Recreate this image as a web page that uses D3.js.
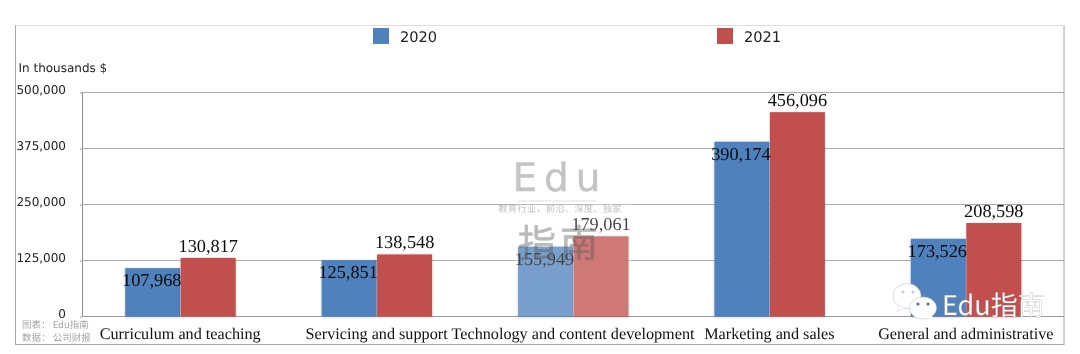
<!DOCTYPE html>
<html><head><meta charset="utf-8">
<script src="https://cdn.jsdelivr.net/npm/d3@7"></script>
<style>html,body{margin:0;padding:0;background:#fff}svg{display:block;text-rendering:geometricPrecision}</style></head>
<body><div id="c"></div>
<script>
const categories=["Curriculum and teaching","Servicing and support","Technology and content development","Marketing and sales","General and administrative"];
const years=["2020","2021"];
const values2020=[107968,125851,155949,390174,173526];
const values2021=[130817,138548,179061,456096,208598];
const yTicks=[0,125000,250000,375000,500000];
const colors=["#4f81bd","#c0504d"];
const W=1080,H=354;
const m={l:82,r:1064,t:92.5,b:316.5};
const svg=d3.select("#c").append("svg").attr("width",W).attr("height",H).style("filter","blur(0.35px)");
const defs=svg.append("defs");
const f=defs.append("filter").attr("id","sh").attr("x","-10%").attr("y","-10%").attr("width","120%").attr("height","120%");
f.append("feDropShadow").attr("dx",0).attr("dy",0.5).attr("stdDeviation",1).attr("flood-color","#000").attr("flood-opacity",.25);
const y=d3.scaleLinear().domain([0,500000]).range([m.b,m.t]);
const x0=d3.scaleBand().domain(categories).range([m.l,m.r]);
const barW=55;
const x1=d3.scaleBand().domain(years).range([-barW-0.5,barW+0.5]);
const serif="'Liberation Serif',serif", sans="'DejaVu Sans',sans-serif";
// frame
svg.append("rect").attr("x",15.5).attr("y",25.5).attr("width",1048.5).attr("height",319)
  .attr("fill","#fff").attr("stroke","#a6a6a6").attr("stroke-width",1);
svg.append("line").attr("x1",15.5).attr("x2",1064).attr("y1",25.5).attr("y2",25.5).attr("stroke","#dedede");
// y axis
const ya=svg.append("g").attr("transform",`translate(${m.l},0)`)
  .call(d3.axisLeft(y).tickValues(yTicks).tickSize(2).tickPadding(16).tickFormat(d3.format(",")));
ya.select(".domain").attr("stroke","#8c8c8c").attr("d",`M0.5,${m.t}V${m.b}`);
ya.selectAll(".tick line").attr("stroke","#9a9a9a");
ya.selectAll(".tick text").attr("font-family",sans).attr("font-size",12).attr("fill","#222").attr("x",-16).attr("dy","0.1em");
// grid
svg.append("g").selectAll("line").data(yTicks).join("line")
  .attr("x1",m.l).attr("x2",m.r).attr("y1",d=>y(d)).attr("y2",d=>y(d))
  .attr("stroke",d=>d===0?"#9a9a9a":"#ababab").attr("stroke-width",1);
// x axis
const xa=svg.append("g").attr("transform",`translate(0,${m.b})`)
  .call(d3.axisBottom(x0).tickSize(0).tickPadding(11));
xa.select(".domain").remove();
xa.selectAll(".tick text").attr("font-family",serif).attr("font-size",16.2).attr("fill","#111");
// bars
const rows=categories.map((c,i)=>({c,v:[values2020[i],values2021[i]]}));
const g=svg.append("g").selectAll("g").data(rows).join("g")
  .attr("transform",d=>`translate(${x0(d.c)+x0.bandwidth()/2},0)`);
g.selectAll("rect").data(d=>d.v.map((v,i)=>({v,i}))).join("rect")
  .attr("x",d=>x1(years[d.i])+.5).attr("width",barW)
  .attr("y",d=>y(d.v)).attr("height",d=>y(0)-y(d.v))
  .attr("fill",d=>colors[d.i]).attr("filter","url(#sh)");
// labels
g.selectAll("text").data(d=>d.v.map((v,i)=>({v,i}))).join("text")
  .attr("text-anchor","middle")
  .attr("x",d=>d.i===0?-barW/2-1:barW/2+.5)
  .attr("y",d=>d.i===0?y(d.v)+18:y(d.v)-6)
  .attr("font-family",serif).attr("font-size",18.3).attr("fill","#0a0a0a")
  .text(d=>d3.format(",")(d.v));
// legend
const lx=[373,717];
const lg=svg.append("g").selectAll("g").data(years).join("g").attr("transform",(d,i)=>`translate(${lx[i]},28)`);
lg.append("rect").attr("width",16).attr("height",16).attr("fill",(d,i)=>colors[i]);
lg.append("text").attr("x",27).attr("y",14).attr("font-family",sans).attr("font-size",14.6).attr("fill","#222").text(d=>d);
// unit
svg.append("text").attr("x",18.5).attr("y",72).attr("font-family",sans).attr("font-size",12).attr("fill","#222").text("In thousands $");
// centre watermark
svg.append("rect").attr("x",515).attr("y",150).attr("width",117).attr("height",166).attr("fill","#fff").attr("opacity",.24);
const wm=svg.append("g").attr("text-anchor","middle").attr("font-family","'Noto Sans CJK SC',sans-serif");
wm.append("text").attr("x",560).attr("y",191).attr("font-family","'DejaVu Sans',sans-serif").attr("font-size",39).attr("letter-spacing",7).attr("fill","#8a8a8a").attr("stroke","#8a8a8a").attr("stroke-width",.4).attr("opacity",.5).text("Edu");
wm.append("line").attr("x1",518).attr("x2",596).attr("y1",201).attr("y2",201).attr("stroke","#ddd");
wm.append("text").attr("x",560).attr("y",212).attr("font-size",9.5).attr("fill","#aaa").attr("opacity",.7).text("教育行业，前沿、深度、独家");
wm.append("text").attr("x",560).attr("y",257).attr("font-size",38).attr("letter-spacing",4).attr("fill","#555").attr("stroke","#555").attr("stroke-width",.6).attr("opacity",.4).text("指南");
// source note
const nt=svg.append("g").attr("font-family","'Noto Sans CJK SC',sans-serif").attr("font-size",9.5).attr("fill","#a5a5a5");
nt.append("text").attr("x",22).attr("y",328).text("图表： Edu指南");
nt.append("text").attr("x",22).attr("y",341).text("数据： 公司财报");
// wechat mark
const wc=svg.append("g").attr("fill","#fff");
wc.append("ellipse").attr("cx",907).attr("cy",296).attr("rx",14).attr("ry",12.5).attr("stroke","#c8c8c8").attr("stroke-width",.7);
wc.append("path").attr("d","M899,305l-2,7l8,-4z").attr("stroke","#d0d0d0").attr("stroke-width",.4);
wc.append("ellipse").attr("cx",923).attr("cy",308).attr("rx",13.5).attr("ry",11).attr("stroke","#c8c8c8").attr("stroke-width",.6);
wc.append("path").attr("d","M928,317l5,5l-1,-7z");
[[903,292,"#ccc"],[913,292,"#ccc"],[918,304,"#4f6f9f"],[928,304,"#4f6f9f"]].forEach(p=>wc.append("circle").attr("cx",p[0]).attr("cy",p[1]).attr("r",1.6).attr("fill",p[2]));
svg.append("text").attr("x",942).attr("y",315).attr("font-family","'Noto Sans CJK SC',sans-serif").attr("font-size",27).attr("fill","#fff").attr("stroke","#999").attr("stroke-width",.25).text("Edu指南");
</script></body></html>
